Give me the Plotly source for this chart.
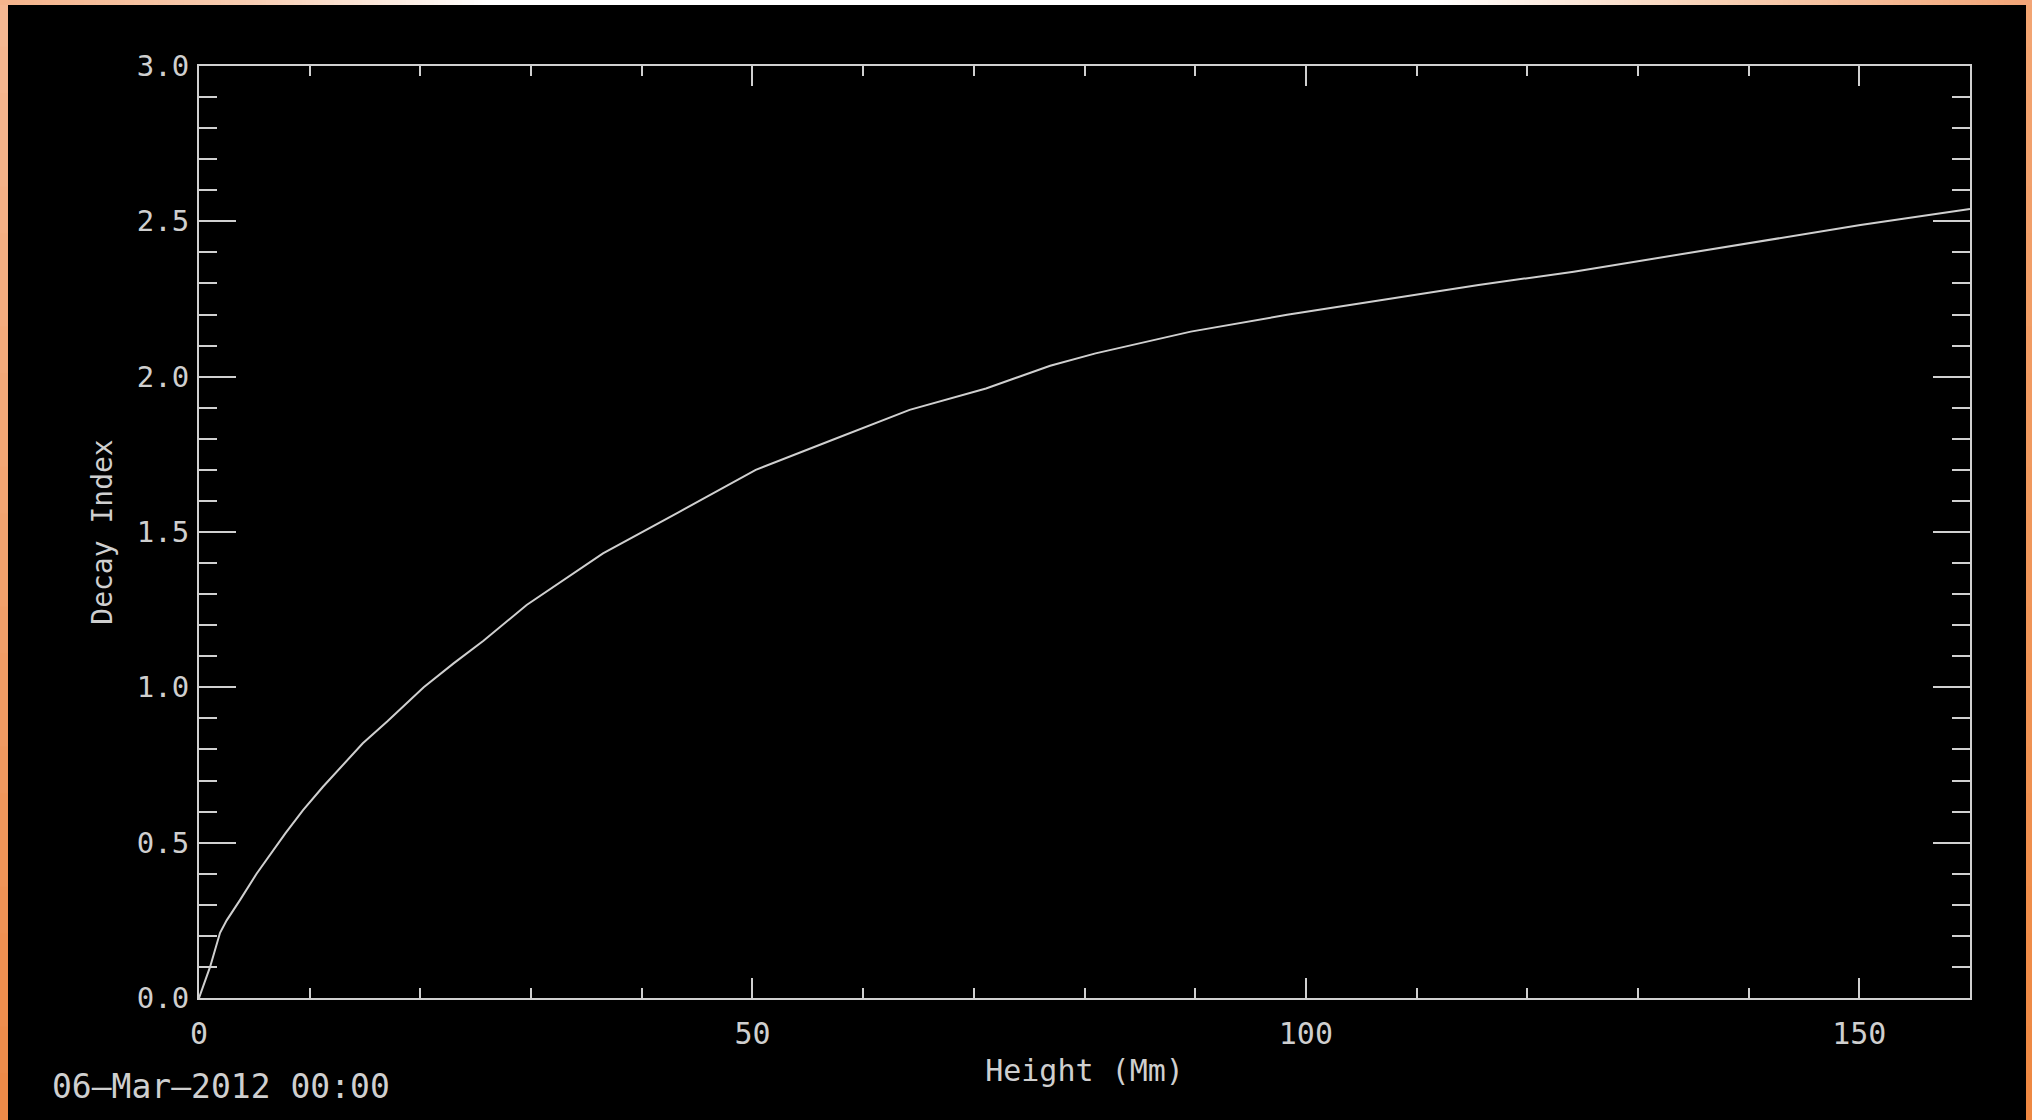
import plotly.graph_objects as go

# ---- data ----
height_mm = [0, 1.0, 1.9, 2.5, 3.7, 5.2, 7.8, 9.4, 11.2, 14.8, 17.0, 20.3, 23.0, 25.7,
             29.6, 36.5, 43.4, 50.3, 57.2, 64.2, 71.1, 76.9, 81.0, 89.6, 98.3, 106.9,
             115.6, 124.2, 132.8, 141.5, 150.1, 160]
decay_index = [0, 0.10, 0.21, 0.25, 0.315, 0.40, 0.53, 0.605, 0.68, 0.82, 0.89, 1.00,
               1.077, 1.15, 1.265, 1.431, 1.565, 1.70, 1.796, 1.893, 1.962, 2.035,
               2.075, 2.145, 2.199, 2.247, 2.295, 2.338, 2.388, 2.44, 2.488, 2.54]
x_ticks = [0, 50, 100, 150]
x_tick_labels = ["0", "50", "100", "150"]
y_ticks = [0.0, 0.5, 1.0, 1.5, 2.0, 2.5, 3.0]
y_tick_labels = ["0.0", "0.5", "1.0", "1.5", "2.0", "2.5", "3.0"]
x_title = "Height (Mm)"
y_title = "Decay Index"
date_label = "06\u2013Mar\u20132012 00:00"

W, H = 2032, 1120
L, R, T, B = 199, 1970, 66, 998
TXT = "#cfcfcf"
AX = "#d0d0d0"
FONT = "DejaVu Sans Mono"


def px(xp):
    return (xp - L) / (R - L)


def py(yp):
    return (B - yp) / (B - T)


def lerp(c1, c2, t):
    a = [int(c1[i:i + 2], 16) for i in (1, 3, 5)]
    b = [int(c2[i:i + 2], 16) for i in (1, 3, 5)]
    return "#%02x%02x%02x" % tuple(round(a[k] + (b[k] - a[k]) * t) for k in range(3))


shapes = []
# left / right orange borders (vertical gradient)
N = 24
for i in range(N):
    y0 = H * i / N
    y1 = H * (i + 1) / N + 1
    t = i / (N - 1)
    shapes.append(dict(type="rect", xref="paper", yref="paper", x0=px(0), x1=px(8),
                       y0=py(y0), y1=py(y1), fillcolor=lerp("#f6b892", "#ee8a48", t),
                       line=dict(width=0), layer="above"))
    shapes.append(dict(type="rect", xref="paper", yref="paper", x0=px(2026), x1=px(W),
                       y0=py(y0), y1=py(y1), fillcolor=lerp("#f2a472", "#ee8842", t),
                       line=dict(width=0), layer="above"))
# top strip (horizontal gradient: orange -> white -> orange)
stops = [(0, "#f5b48c"), (250, "#f8cdb2"), (490, "#ffffff"), (1430, "#ffffff"),
         (1700, "#f8d2b8"), (2032, "#f2a476")]
M = 60
for j in range(len(stops) - 1):
    xa, ca = stops[j]
    xb, cb = stops[j + 1]
    for k in range(M):
        x0 = xa + (xb - xa) * k / M
        x1 = xa + (xb - xa) * (k + 1) / M + 1
        shapes.append(dict(type="rect", xref="paper", yref="paper", x0=px(x0), x1=px(x1),
                           y0=py(0), y1=py(5), fillcolor=lerp(ca, cb, (k + 0.5) / M),
                           line=dict(width=0), layer="above"))

fig = go.Figure()
fig.add_trace(go.Scatter(x=height_mm, y=decay_index, mode="lines",
                         line=dict(color="#cfcfcf", width=2), hoverinfo="skip",
                         showlegend=False))

axis_common = dict(showgrid=False, zeroline=False, showline=True, linecolor=AX,
                   linewidth=2, mirror="allticks", ticks="inside", tickcolor=AX,
                   tickwidth=2)

fig.update_layout(
    width=W, height=H,
    margin=dict(l=L, r=W - R, t=T, b=H - B, pad=0),
    paper_bgcolor="#000000", plot_bgcolor="#000000",
    shapes=shapes,
    xaxis=dict(range=[0, 160], tickvals=x_ticks, ticktext=x_tick_labels, ticklen=20,
               minor=dict(dtick=10, ticklen=10, tickcolor=AX, tickwidth=2, ticks="inside"),
               ticklabelstandoff=8,
               tickfont=dict(family=FONT, size=30, color=TXT),
               title=dict(text=x_title, font=dict(family=FONT, size=30, color=TXT), standoff=10),
               **axis_common),
    yaxis=dict(range=[0, 3], tickvals=y_ticks, ticktext=y_tick_labels, ticklen=37,
               minor=dict(dtick=0.1, ticklen=18, tickcolor=AX, tickwidth=2, ticks="inside"),
               ticklabelstandoff=2,
               tickfont=dict(family=FONT, size=29, color=TXT),
               title=dict(text=y_title, font=dict(family=FONT, size=28, color=TXT), standoff=16),
               **axis_common),
    annotations=[dict(text=date_label, xref="paper", yref="paper", x=px(50), y=py(1086),
                      xanchor="left", yanchor="middle", showarrow=False,
                      font=dict(family=FONT, size=33, color=TXT))],
)

fig.write_html("out.html", config={"displayModeBar": False},
               post_script="document.body.style.margin='0';")
